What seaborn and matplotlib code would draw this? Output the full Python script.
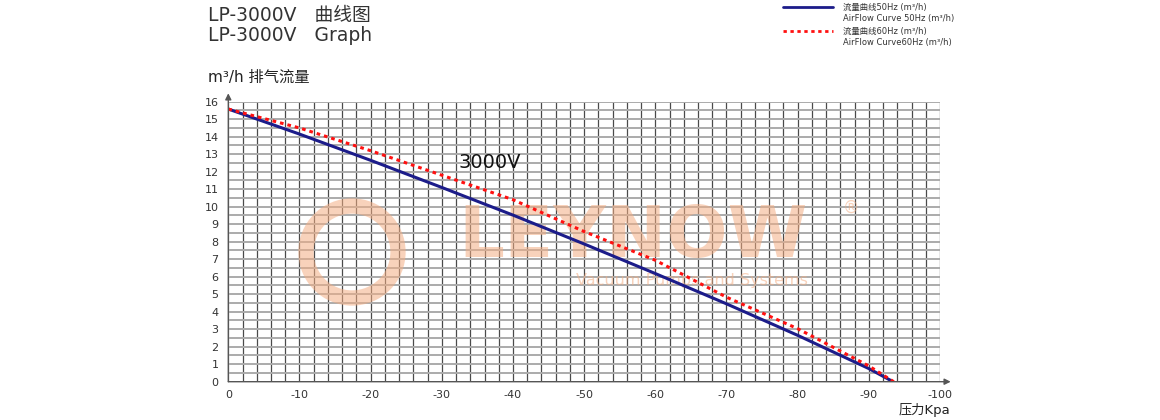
import numpy as np
import pandas as pd
import matplotlib
matplotlib.use("Agg")
import matplotlib.pyplot as plt
from matplotlib.lines import Line2D
from matplotlib.patches import Ellipse
import seaborn as sns

# ---- data ----
pressure_50 = [0, -10, -20, -30, -40, -50, -60, -70, -80, -90, -93.4]
flow_50 = [15.58, 14.15, 12.65, 11.1, 9.52, 7.87, 6.18, 4.45, 2.65, 0.75, 0.0]
pressure_60 = [0, -10, -20, -30, -40, -50, -60, -70, -80, -90, -93.5]
flow_60 = [15.58, 14.5, 13.2, 11.8, 10.4, 8.58, 6.94, 4.83, 3.03, 0.9, 0.0]
series_names = ["50Hz", "60Hz"]
x_ticks = [0, -10, -20, -30, -40, -50, -60, -70, -80, -90, -100]
y_ticks = list(range(0, 17))

df = pd.concat([
    pd.DataFrame({"pressure": pressure_50, "flow": flow_50, "series": series_names[0]}),
    pd.DataFrame({"pressure": pressure_60, "flow": flow_60, "series": series_names[1]}),
])

sns.set_style("white")
plt.rcParams["font.family"] = ["DejaVu Sans", "Noto Sans CJK SC"]

W, H = 1160, 420
fig = plt.figure(figsize=(W / 100, H / 100), dpi=100)
fig.patch.set_facecolor("white")

def fx(px):
    return px / W

def fy(py):
    return 1 - py / H

ax = fig.add_axes([fx(228.3), fy(381.7), fx(940) - fx(228.3), fy(101.7) - fy(381.7)])
ax.set_facecolor("none")

# watermark (semi-transparent, above grid, below curves)
wm = "#f4ae84"
wa = 0.55
tf = fig.transFigure
ax.text(fx(633), fy(238), "LEYNOW", fontsize=52, fontweight="bold", color=wm, alpha=wa,
        ha="center", va="center", family="DejaVu Sans", zorder=2, transform=tf,
        clip_on=False)
ax.text(fx(692), fy(281), "Vacuum Pumps and Systems", fontsize=11.5, color=wm, alpha=wa,
        ha="center", va="center", family="DejaVu Sans", zorder=2, transform=tf,
        clip_on=False)
ax.text(fx(851), fy(208), "®", fontsize=12, color=wm, alpha=wa, ha="center", va="center",
        family="DejaVu Sans", zorder=2, transform=tf, clip_on=False)
ring = Ellipse((fx(352), fy(252)), fx(92), 92 / H, fill=False, lw=11,
               edgecolor=wm, alpha=wa, zorder=2, transform=tf)
ax.add_artist(ring)

palette = {"50Hz": "#1c1c8a", "60Hz": "#ff1010"}
dashes = {"50Hz": "", "60Hz": (1.2, 1.3)}
sns.lineplot(data=df, x="pressure", y="flow", hue="series", style="series",
             palette=palette, dashes=dashes, ax=ax, legend=False, zorder=3,
             sort=False, estimator=None)
for ln in ax.lines:
    ln.set_linewidth(2.2)
    ln.set_dash_capstyle("butt")

ax.set_xlim(0, -100)
ax.set_ylim(0, 16)
ax.set_xticks(x_ticks)
ax.set_xticklabels([str(v) for v in x_ticks])
ax.set_xticks(np.arange(0, -101, -2), minor=True)
ax.set_yticks(y_ticks)
ax.set_yticklabels([str(v) for v in y_ticks])
ax.set_yticks(np.arange(0, 16.01, 0.5), minor=True)

ax.grid(axis="x", which="both", color="#4a4a4a", lw=0.9)
ax.grid(axis="y", which="both", color="#ababab", lw=1.4)
ax.set_axisbelow(True)

ax.tick_params(axis="x", which="major", length=4, width=0.9, color="#444",
               labelsize=8, labelcolor="#333", pad=2)
ax.tick_params(axis="x", which="minor", length=3, width=0.9, color="#444")
ax.tick_params(axis="y", which="major", length=4, width=0.9, color="#444",
               labelsize=8, labelcolor="#333", pad=3)
ax.tick_params(axis="y", which="minor", length=0)
for s in ax.spines.values():
    s.set_visible(False)
ax.set_xlabel("")
ax.set_ylabel("")

# axes with arrows
ax.annotate("", xy=(1.015, 0), xytext=(0, 0), xycoords="axes fraction",
            arrowprops=dict(arrowstyle="-|>", color="#555", lw=1, mutation_scale=9,
                            shrinkA=0, shrinkB=0), annotation_clip=False)
ax.annotate("", xy=(0, 1.03), xytext=(0, 0), xycoords="axes fraction",
            arrowprops=dict(arrowstyle="-|>", color="#555", lw=1, mutation_scale=9,
                            shrinkA=0, shrinkB=0), annotation_clip=False)

ax.text(-36.8, 12.5, "3000V", fontsize=14, color="#111", ha="center", va="center",
        family="DejaVu Sans", zorder=4)

# titles
fig.text(fx(208), fy(21), "LP-3000V   曲线图", fontsize=13.5, color="#333",
         ha="left", va="baseline")
fig.text(fx(208), fy(41), "LP-3000V   Graph", fontsize=13.5, color="#333",
         ha="left", va="baseline")
fig.text(fx(208), fy(77), "m³/h 排气流量", fontsize=11, color="#222",
         ha="left", va="center")
fig.text(fx(950), fy(410), "压力Kpa", fontsize=9.5, color="#222",
         ha="right", va="center")

# legend
fig.add_artist(Line2D([fx(783), fx(833)], [fy(7), fy(7)], color=palette["50Hz"], lw=2))
fig.add_artist(Line2D([fx(783), fx(833)], [fy(31), fy(31)], color=palette["60Hz"], lw=2,
                      dashes=(1.2, 1.3)))
fig.text(fx(843), fy(7), "流量曲线50Hz (m³/h)", fontsize=6, color="#333", va="center")
fig.text(fx(843), fy(19), "AirFlow Curve 50Hz (m³/h)", fontsize=6, color="#333", va="center")
fig.text(fx(843), fy(31), "流量曲线60Hz (m³/h)", fontsize=6, color="#333", va="center")
fig.text(fx(843), fy(42), "AirFlow Curve60Hz (m³/h)", fontsize=6, color="#333", va="center")

fig.savefig("out.png", dpi=100, facecolor="white")
